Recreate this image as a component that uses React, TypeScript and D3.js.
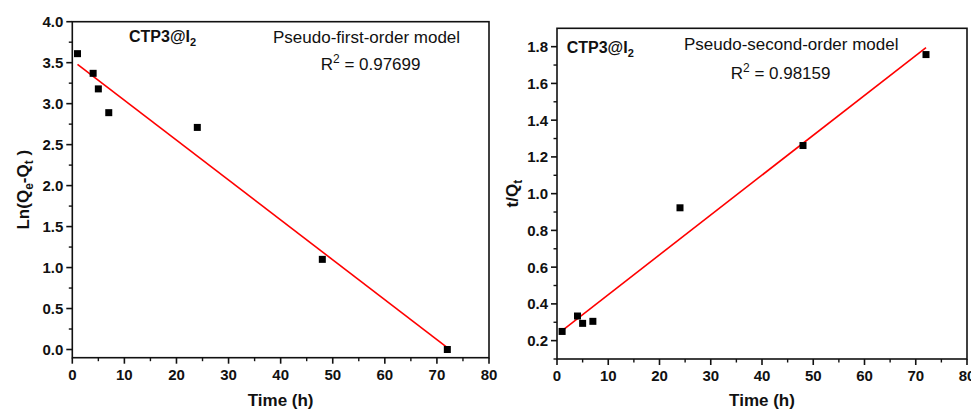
import React from "react";
import * as d3 from "d3";

const timeH = [1, 4, 5, 7, 24, 48, 72];
const lnQeQt = [3.61, 3.37, 3.18, 2.89, 2.71, 1.1, 0.0];
const tOverQt = [0.25, 0.334, 0.294, 0.305, 0.923, 1.262, 1.757];

const xTicks = [0, 10, 20, 30, 40, 50, 60, 70, 80];
const xMinorTicks = [5, 15, 25, 35, 45, 55, 65, 75];
const yTicksLeft = [0, 0.5, 1.0, 1.5, 2.0, 2.5, 3.0, 3.5, 4.0];
const yMinorLeft = [0.25, 0.75, 1.25, 1.75, 2.25, 2.75, 3.25, 3.75];
const yTicksRight = [0.2, 0.4, 0.6, 0.8, 1.0, 1.2, 1.4, 1.6, 1.8];
const yMinorRight = [0.1, 0.3, 0.5, 0.7, 0.9, 1.1, 1.3, 1.5, 1.7];

const FONT = "'Liberation Sans', Arial, Helvetica, sans-serif";

function fitLine(xs: number[], ys: number[]) {
  const mx = d3.mean(xs) as number;
  const my = d3.mean(ys) as number;
  let sxx = 0;
  let sxy = 0;
  xs.forEach((x, i) => {
    sxx += (x - mx) * (x - mx);
    sxy += (x - mx) * (ys[i] - my);
  });
  const slope = sxy / sxx;
  const intercept = my - slope * mx;
  return (x: number) => intercept + slope * x;
}

type PanelProps = {
  left: number;
  right: number;
  top: number;
  bottom: number;
  yDomain: [number, number];
  yTicks: number[];
  yMinor: number[];
  yFmt: (v: number) => string;
  ys: number[];
  yTitle: React.ReactNode;
  yTitleX: number;
  tag: { x: number; y: number };
  model: { text: string; x: number; y: number };
  r2: { text: string; x: number; y: number };
};

function Panel(p: PanelProps) {
  const x = d3.scaleLinear().domain([0, 80]).range([p.left, p.right]);
  const y = d3.scaleLinear().domain(p.yDomain).range([p.bottom, p.top]);
  const f = fitLine(timeH, p.ys);
  const fitPts: [number, number][] = [timeH[0], timeH[timeH.length - 1]].map((t) => [t, f(t)]);
  const line = d3
    .line<[number, number]>()
    .x((d) => x(d[0]))
    .y((d) => y(d[1]));
  const axisColor = "#111";
  const sq = 7;
  return (
    <g fontFamily={FONT}>
      <path d={line(fitPts) as string} stroke="#ff0000" strokeWidth={1.6} fill="none" />
      {timeH.map((t, i) => (
        <rect
          key={i}
          x={x(t) - sq / 2}
          y={y(p.ys[i]) - sq / 2}
          width={sq}
          height={sq}
          fill="#000"
        />
      ))}
      <rect
        x={p.left}
        y={p.top}
        width={p.right - p.left}
        height={p.bottom - p.top}
        fill="none"
        stroke={axisColor}
        strokeWidth={1.6}
      />
      {xTicks.map((t) => (
        <g key={"xt" + t}>
          <line x1={x(t)} x2={x(t)} y1={p.bottom} y2={p.bottom + 6} stroke={axisColor} strokeWidth={1.6} />
          <text
            x={x(t)}
            y={p.bottom + 22}
            textAnchor="middle"
            fontSize={15}
            fontWeight="bold"
            fill="#111"
          >
            {t}
          </text>
        </g>
      ))}
      {xMinorTicks.map((t) => (
        <line key={"xm" + t} x1={x(t)} x2={x(t)} y1={p.bottom} y2={p.bottom + 3.5} stroke={axisColor} strokeWidth={1.4} />
      ))}
      {p.yTicks.map((t) => (
        <g key={"yt" + t}>
          <line x1={p.left - 6} x2={p.left} y1={y(t)} y2={y(t)} stroke={axisColor} strokeWidth={1.6} />
          <text
            x={p.left - 9}
            y={y(t)}
            dy="0.36em"
            textAnchor="end"
            fontSize={15}
            fontWeight="bold"
            fill="#111"
          >
            {p.yFmt(t)}
          </text>
        </g>
      ))}
      {p.yMinor.map((t) => (
        <line key={"ym" + t} x1={p.left - 3.5} x2={p.left} y1={y(t)} y2={y(t)} stroke={axisColor} strokeWidth={1.4} />
      ))}
      <text
        x={(p.left + p.right) / 2}
        y={406}
        textAnchor="middle"
        fontSize={17}
        fontWeight="bold"
        fill="#111"
      >
        Time (h)
      </text>
      <text
        transform={`translate(${p.yTitleX},${(p.top + p.bottom) / 2}) rotate(-90)`}
        textAnchor="middle"
        fontSize={17}
        fontWeight="bold"
        fill="#111"
      >
        {p.yTitle}
      </text>
      <text x={p.tag.x} y={p.tag.y} fontSize={16} fontWeight="bold" fill="#111">
        CTP3@I
        <tspan fontSize={11} dy={4}>
          2
        </tspan>
      </text>
      <text x={p.model.x} y={p.model.y} fontSize={17} fill="#111">
        {p.model.text}
      </text>
      <text x={p.r2.x} y={p.r2.y} fontSize={17} fill="#111">
        R
        <tspan fontSize={12} dy={-7}>
          2
        </tspan>
        <tspan dy={7}>{" = " + p.r2.text}</tspan>
      </text>
    </g>
  );
}

export default function App() {
  return (
    <svg
      width={971}
      height={411}
      style={{ position: "absolute", left: 0, top: 0, background: "#fff" }}
    >
      <rect width={971} height={411} fill="#fff" />
      <Panel
        left={72.3}
        right={489}
        top={21.7}
        bottom={357.7}
        yDomain={[-0.1, 4.0]}
        yTicks={yTicksLeft}
        yMinor={yMinorLeft}
        yFmt={(v) => v.toFixed(1)}
        ys={lnQeQt}
        yTitleX={29}
        yTitle={
          <>
            Ln(Q
            <tspan fontSize={12} dy={4}>e</tspan>
            <tspan dy={-4}>-Q</tspan>
            <tspan fontSize={12} dy={4}>t</tspan>
            <tspan dy={-4}>{" )"}</tspan>
          </>
        }
        tag={{ x: 129, y: 42 }}
        model={{ text: "Pseudo-first-order model", x: 273, y: 43 }}
        r2={{ text: "0.97699", x: 320.7, y: 70 }}
      />
      <Panel
        left={557}
        right={967}
        top={28.3}
        bottom={359}
        yDomain={[0.1, 1.9]}
        yTicks={yTicksRight}
        yMinor={yMinorRight}
        yFmt={(v) => v.toFixed(1)}
        ys={tOverQt}
        yTitleX={518}
        yTitle={
          <>
            t/Q
            <tspan fontSize={12} dy={4}>t</tspan>
          </>
        }
        tag={{ x: 566.7, y: 52.5 }}
        model={{ text: "Pseudo-second-order model", x: 684, y: 50 }}
        r2={{ text: "0.98159", x: 730.7, y: 79 }}
      />
    </svg>
  );
}
